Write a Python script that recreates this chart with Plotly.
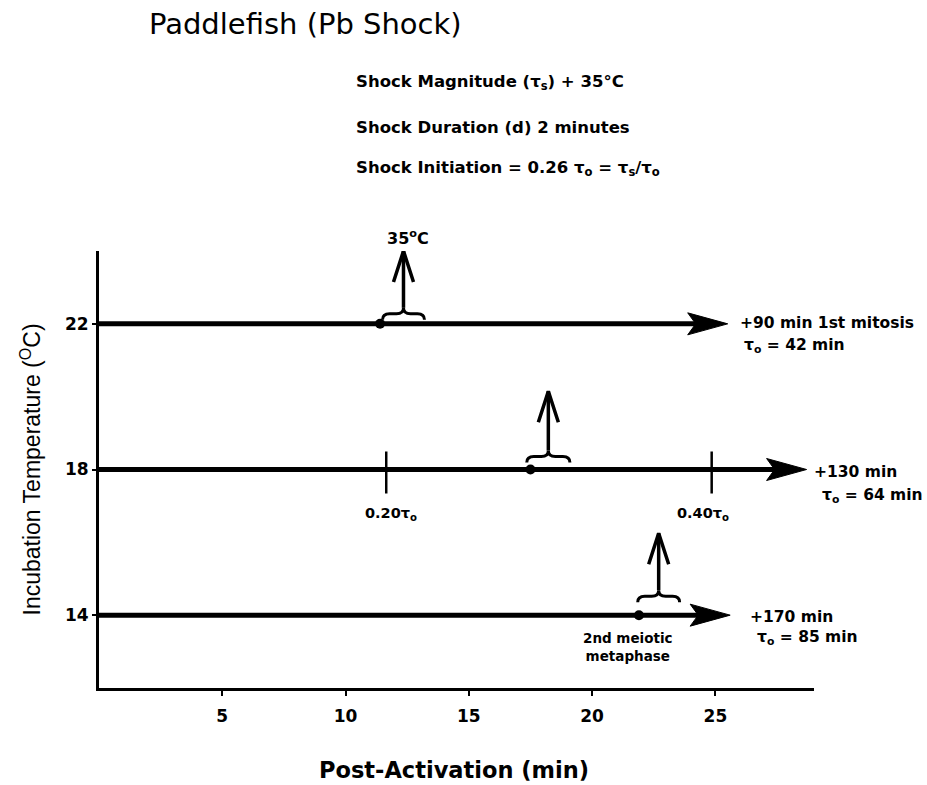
import plotly.graph_objects as go

# ---------------- data ----------------
temps = [22, 18, 14]                      # incubation temperature rows (°C)
line_end = [25.5, 28.7, 25.6]             # post-activation time where each arrow ends (min)
shock_start = [11.4, 17.5, 21.9]          # dot: shock initiation (min)
brace_start = [11.5, 17.35, 21.85]        # shock window start (min)
brace_end = [13.2, 19.1, 23.55]           # shock window end (min)
arrow_top = [24.0, 20.15, 16.25]          # top of the shock arrows (temperature units)
end_label = ["+90 min 1st mitosis", "+130 min", "+170 min"]
tau_label = ["τ<sub>o</sub> = 42 min", "τ<sub>o</sub> = 64 min", "τ<sub>o</sub> = 85 min"]
ref_ticks = [11.65, 24.85]                # 0.20τo and 0.40τo markers on the 18 °C row
ref_tick_labels = ["0.20τ<sub>o</sub>", "0.40τ<sub>o</sub>"]
x_ticks = [5, 10, 15, 20, 25]
y_ticks = [14, 18, 22]

# ---------------- layout geometry ----------------
W, H = 927, 785
ML, MR, MT, MB = 99, 113, 251, 97
XR = [0, 29]
YR = [12, 24]
xs = (W - ML - MR) / (XR[1] - XR[0])   # px per minute
ys = (H - MT - MB) / (YR[1] - YR[0])   # px per degree

FONT = "DejaVu Sans"
BLACK = "black"

fig = go.Figure()
shapes = []
annotations = []

brace_lift = [-1, 2, 8]
label1_dx = [10, 5, 18]
label1_dy = [1, -2, -2]
label2_dx = [14, 13, 25]
label2_dy = [-22, -26, -23]

for i, y in enumerate(temps):
    xe = line_end[i]
    L, Hh, notch = 40 / xs, 11 / ys, 32 / xs
    # main line
    fig.add_trace(go.Scatter(x=[0, xe - notch + 0.05], y=[y, y], mode="lines",
                             line=dict(color=BLACK, width=5), hoverinfo="skip", showlegend=False))
    # arrow head
    fig.add_trace(go.Scatter(x=[xe, xe - L, xe - notch, xe - L, xe],
                             y=[y, y + Hh, y, y - Hh, y], mode="lines", fill="toself",
                             fillcolor=BLACK, line=dict(color=BLACK, width=1),
                             hoverinfo="skip", showlegend=False))
    # shock initiation dot
    fig.add_trace(go.Scatter(x=[shock_start[i]], y=[y], mode="markers",
                             marker=dict(color=BLACK, size=10), hoverinfo="skip", showlegend=False))
    # brace
    x0, x1 = brace_start[i], brace_end[i]
    lift = brace_lift[i]
    ye = y + (lift + 5) / ys
    yf = y + (lift + 11) / ys
    yc = y + (lift + 17) / ys
    r = 7 / xs
    xm = (x0 + x1) / 2
    path = (f"M{x0},{ye} Q{x0},{yf} {x0 + r},{yf} L{xm - r},{yf} Q{xm},{yf} {xm},{yc} "
            f"Q{xm},{yf} {xm + r},{yf} L{x1 - r},{yf} Q{x1},{yf} {x1},{ye}")
    shapes.append(dict(type="path", xref="x", yref="y", path=path,
                       line=dict(color=BLACK, width=3)))
    # up arrow (shaft + chevron)
    top = arrow_top[i]
    fig.add_trace(go.Scatter(x=[xm, xm], y=[yc, top], mode="lines",
                             line=dict(color=BLACK, width=3.5), hoverinfo="skip", showlegend=False))
    fig.add_trace(go.Scatter(x=[xm - 10 / xs, xm, xm + 10 / xs],
                             y=[top - 31 / ys, top, top - 31 / ys], mode="lines",
                             line=dict(color=BLACK, width=3.5), hoverinfo="skip", showlegend=False))
    # end labels
    annotations.append(dict(x=xe, y=y, xref="x", yref="y", text=end_label[i], showarrow=False,
                            xanchor="left", yanchor="middle", xshift=label1_dx[i], yshift=label1_dy[i],
                            font=dict(family=FONT, size=15.5, color=BLACK, weight="bold")))
    annotations.append(dict(x=xe, y=y, xref="x", yref="y", text=tau_label[i], showarrow=False,
                            xanchor="left", yanchor="middle", xshift=label2_dx[i], yshift=label2_dy[i],
                            font=dict(family=FONT, size=15.5, color=BLACK, weight="bold")))

# 35°C label above the top arrow
annotations.append(dict(x=(brace_start[0] + brace_end[0]) / 2, y=arrow_top[0], xref="x", yref="y",
                        text="35<sup>o</sup>C", showarrow=False, xanchor="center", yanchor="middle",
                        xshift=5, yshift=14,
                        font=dict(family=FONT, size=16, color=BLACK, weight="bold")))

# reference ticks on the 18 °C row
ref_dx = [5, -9]
for j, xt in enumerate(ref_ticks):
    fig.add_trace(go.Scatter(x=[xt, xt], y=[temps[1] + 18 / ys, temps[1] - 24 / ys], mode="lines",
                             line=dict(color=BLACK, width=2.5), hoverinfo="skip", showlegend=False))
    annotations.append(dict(x=xt, y=temps[1], xref="x", yref="y", text=ref_tick_labels[j],
                            showarrow=False, xanchor="center", yanchor="middle",
                            xshift=ref_dx[j], yshift=-44,
                            font=dict(family=FONT, size=14.5, color=BLACK, weight="bold")))

# 2nd meiotic metaphase label
annotations.append(dict(x=shock_start[2], y=temps[2], xref="x", yref="y",
                        text="2nd meiotic<br>metaphase", showarrow=False, xanchor="center",
                        yanchor="middle", xshift=-11, yshift=-32, align="center",
                        font=dict(family=FONT, size=13.5, color=BLACK, weight="bold")))

# header texts
def px_to_paper_x(px):
    return (px - ML) / (W - ML - MR)

def px_to_paper_y(py):
    return (H - MB - py) / (H - MT - MB)

annotations.append(dict(x=px_to_paper_x(147), y=px_to_paper_y(24), xref="paper", yref="paper",
                        text="Paddlefish (Pb Shock)", showarrow=False, xanchor="left", yanchor="middle",
                        font=dict(family=FONT, size=29, color=BLACK)))
header = ["Shock Magnitude (τ<sub>s</sub>) + 35°C",
          "Shock Duration (d) 2 minutes",
          "Shock Initiation = 0.26 τ<sub>o</sub> = τ<sub>s</sub>/τ<sub>o</sub>"]
for txt, py in zip(header, [82, 127, 168]):
    annotations.append(dict(x=px_to_paper_x(354), y=px_to_paper_y(py), xref="paper", yref="paper",
                            text=txt, showarrow=False, xanchor="left", yanchor="middle",
                            font=dict(family=FONT, size=16.5, color=BLACK, weight="bold")))

# axis titles
annotations.append(dict(x=px_to_paper_x(30), y=0.5, xref="paper", yref="paper",
                        text="Incubation Temperature (<sup>O</sup>C)", textangle=-90, showarrow=False,
                        xanchor="center", yanchor="middle",
                        font=dict(family="Liberation Sans", size=23, color=BLACK)))
annotations.append(dict(x=px_to_paper_x(454), y=px_to_paper_y(770), xref="paper", yref="paper",
                        text="Post-Activation (min)", showarrow=False, xanchor="center", yanchor="middle",
                        font=dict(family=FONT, size=22.5, color=BLACK, weight="bold")))

fig.update_layout(
    width=W, height=H,
    margin=dict(l=ML, r=MR, t=MT, b=MB, pad=0),
    paper_bgcolor="white", plot_bgcolor="white",
    showlegend=False,
    shapes=shapes,
    annotations=annotations,
    xaxis=dict(range=XR, tickvals=x_ticks, ticktext=[str(v) for v in x_ticks],
               showline=True, linecolor=BLACK, linewidth=3, showgrid=False, zeroline=False,
               ticks="outside", ticklen=5, tickwidth=1.5, tickcolor=BLACK,
               ticklabelstandoff=6,
               tickfont=dict(family=FONT, size=17, color=BLACK, weight="bold")),
    yaxis=dict(range=YR, tickvals=y_ticks, ticktext=[str(v) for v in y_ticks],
               showline=True, linecolor=BLACK, linewidth=3, showgrid=False, zeroline=False,
               ticks="outside", ticklen=4, tickwidth=1.5, tickcolor=BLACK,
               tickfont=dict(family=FONT, size=17, color=BLACK, weight="bold")),
)

fig.write_html("out.html")
